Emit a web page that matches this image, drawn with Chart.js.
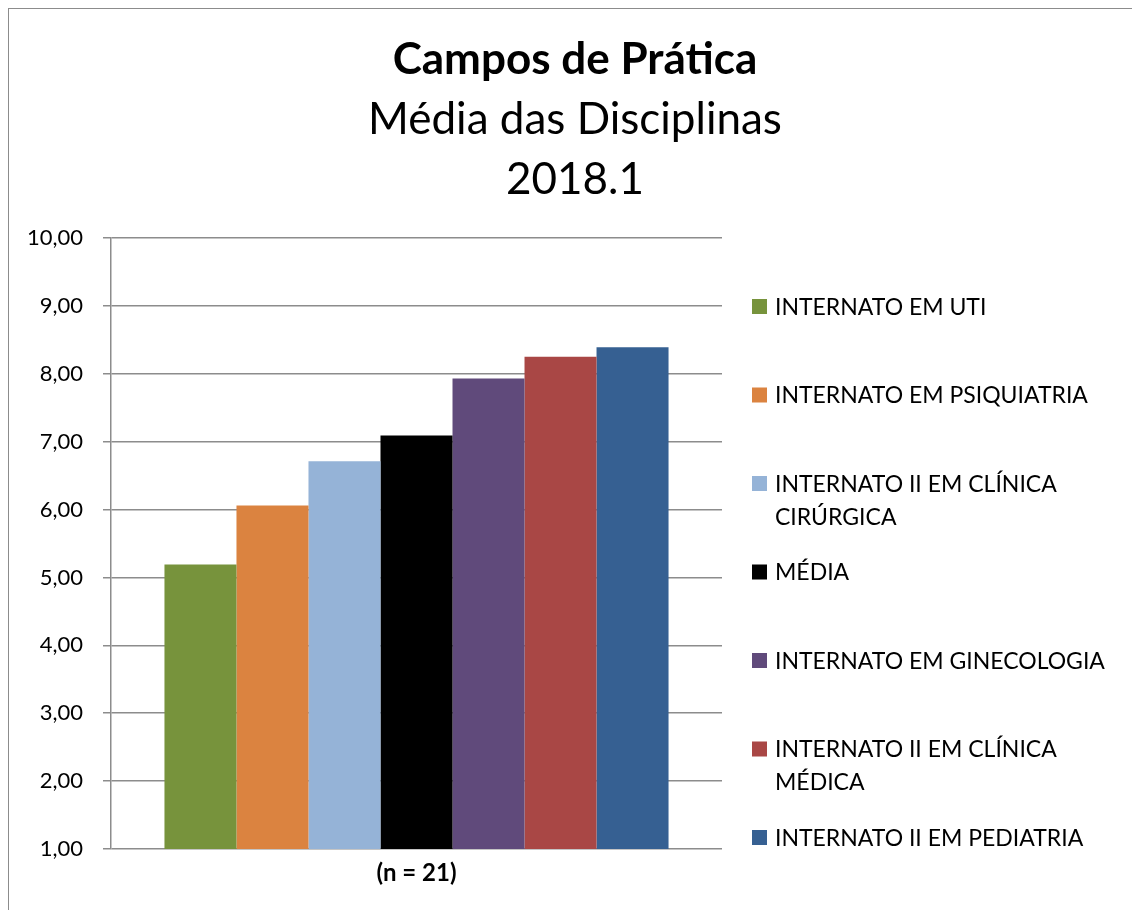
<!DOCTYPE html>
<html>
<head>
<meta charset="utf-8">
<script src="https://cdn.jsdelivr.net/npm/chart.js@4"></script>
<style>
  body { margin: 0; background: #fff; overflow: hidden; }
  #frame { position: absolute; left: 8px; top: 8px; width: 1300px; height: 1100px; border: 1.5px solid #8c8c8c; }
  #wrap { position: absolute; left: 0; top: 0; width: 1132px; height: 910px; }
</style>
</head>
<body>
<div id="frame"></div>
<div id="wrap"><canvas id="mediaChart" width="1132" height="910"></canvas></div>
<script>
const categories = ["(n = 21)"];
const seriesNames = [
  "INTERNATO EM UTI",
  "INTERNATO EM PSIQUIATRIA",
  "INTERNATO II EM CLÍNICA CIRÚRGICA",
  "MÉDIA",
  "INTERNATO EM GINECOLOGIA",
  "INTERNATO II EM CLÍNICA MÉDICA",
  "INTERNATO II EM PEDIATRIA"
];
const seriesValues = [5.19, 6.06, 6.71, 7.09, 7.93, 8.25, 8.39];
const seriesColors = ["#77933C", "#DB8340", "#95B3D7", "#000000", "#604A7B", "#A94745", "#366092"];
const yTicks = { min: 1, max: 10, step: 1 };

const FONT = "Lato, 'Open Sans', sans-serif";

// legend on the right, drawn by hand so long names wrap like in Excel
const sideLegend = {
  id: "sideLegend",
  afterDraw(chart) {
    const ctx = chart.ctx;
    const x0 = 752, top0 = 299, step = 88.5, box = 15, lineH = 33, maxW = 345;
    ctx.save();
    ctx.font = "23px " + FONT;
    ctx.textBaseline = "middle";
    chart.data.datasets.forEach((ds, i) => {
      const y = top0 + i * step;
      ctx.fillStyle = ds.backgroundColor;
      ctx.fillRect(x0, y, box, box);
      // wrap words
      const lines = [];
      let cur = "";
      ds.label.split(" ").forEach(w => {
        const t = cur ? cur + " " + w : w;
        if (ctx.measureText(t).width > maxW && cur) { lines.push(cur); cur = w; }
        else cur = t;
      });
      lines.push(cur);
      ctx.fillStyle = "#000";
      lines.forEach((l, k) => ctx.fillText(l, x0 + 23, y + box / 2 + 1 + k * lineH));
    });
    ctx.restore();
  }
};

const data = {
  labels: categories,
  datasets: seriesNames.map((name, i) => ({
    label: name,
    data: [seriesValues[i]],
    backgroundColor: seriesColors[i],
    borderWidth: 0,
    categoryPercentage: 0.825,
    barPercentage: 1
  }))
};

const options = {
  responsive: false,
  animation: false,
  layout: { padding: { left: 18, right: 0, top: 0, bottom: 0 } },
  plugins: {
    legend: { display: false },
    tooltip: { enabled: false },
    title: {
      display: true,
      text: "Campos de Prática",
      color: "#000",
      font: { family: FONT, size: 44, weight: "bold", lineHeight: 60 / 44 },
      padding: { top: 30, bottom: 0 }
    },
    subtitle: {
      display: true,
      text: ["Média das Disciplinas", "2018.1"],
      color: "#000",
      font: { family: FONT, size: 44, weight: "normal", lineHeight: 60 / 44 },
      padding: { top: 0, bottom: 28 }
    }
  },
  scales: {
    x: {
      grid: { display: false },
      border: { display: false },
      ticks: { color: "#000", padding: 2, font: { family: FONT, size: 24, weight: "bold" } },
      afterFit(s) { s.height = 61; }
    },
    y: {
      min: yTicks.min,
      max: yTicks.max,
      ticks: {
        stepSize: yTicks.step,
        color: "#000",
        padding: 20,
        font: { family: FONT, size: 22 },
        callback: v => v.toFixed(2).replace(".", ",")
      },
      grid: { color: "#8c8c8c", lineWidth: 1.5, tickLength: 8 },
      border: { color: "#8c8c8c", width: 1.5 },
      afterFit(s) { s.width = 93; }
    },
    legendSpace: {
      type: "linear",
      axis: "y",
      position: "right",
      display: true,
      grid: { display: false },
      border: { display: false },
      ticks: { display: false },
      afterFit(s) { s.width = 410; }
    }
  }
};

new Chart(document.getElementById("mediaChart"), {
  type: "bar",
  data,
  options,
  plugins: [sideLegend]
});
</script>
</body>
</html>
